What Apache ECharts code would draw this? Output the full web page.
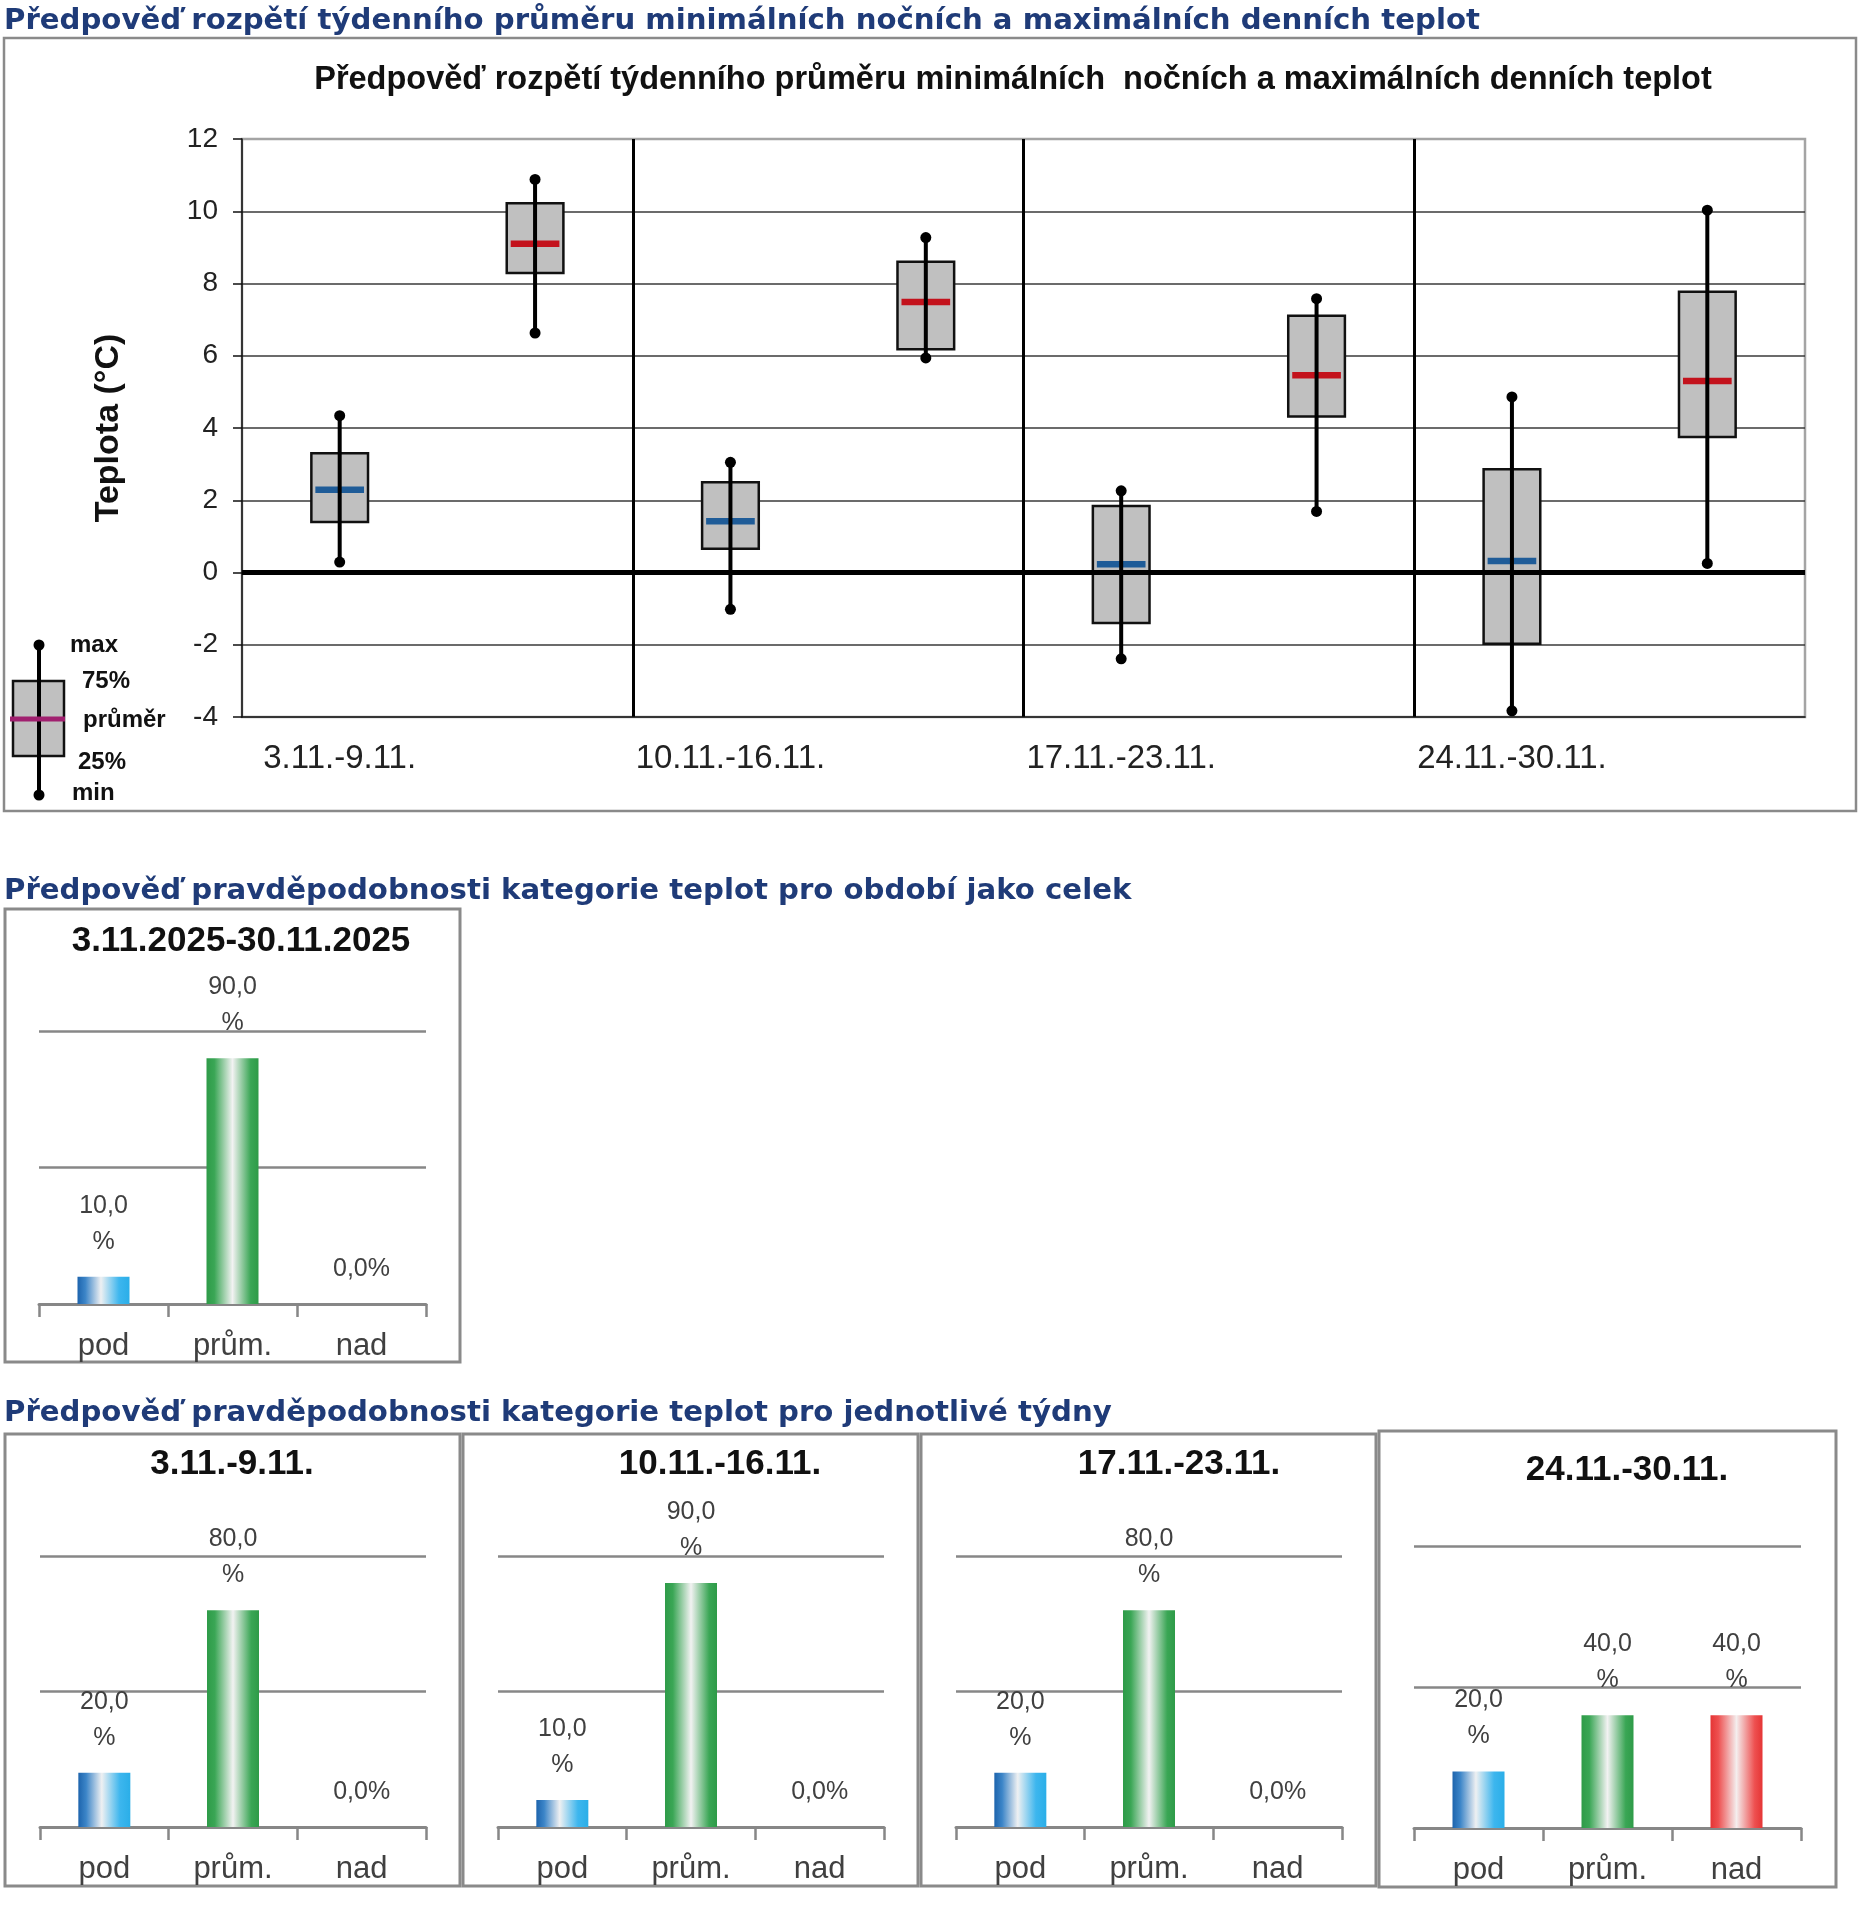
<!DOCTYPE html>
<html lang="cs">
<head>
<meta charset="utf-8">
<title>Předpověď teplot</title>
<script src="https://cdn.jsdelivr.net/npm/echarts@6/dist/echarts.min.js"></script>
<style>
  html, body { margin: 0; padding: 0; background: #fff; }
  #chart { width: 1866px; height: 1920px; }
</style>
</head>
<body>
<div id="chart"></div>
<script>
// --- data ---------------------------------------------------------------
const weeks = ['3.11.-9.11.', '10.11.-16.11.', '17.11.-23.11.', '24.11.-30.11.']

// weekly average of night minimum temperatures
const nightLow = [0.29, -1.02, -2.39, -3.83]
const night25 = [1.40, 0.66, -1.40, -1.97]
const nightMean = [2.29, 1.42, 0.23, 0.32]
const night75 = [3.30, 2.50, 1.84, 2.86]
const nightHigh = [4.34, 3.05, 2.26, 4.86]

// weekly average of day maximum temperatures
const dayLow = [6.63, 5.94, 1.69, 0.25]
const day25 = [8.29, 6.18, 4.32, 3.75]
const dayMean = [9.10, 7.49, 5.46, 5.30]
const day75 = [10.22, 8.60, 7.11, 7.77]
const dayHigh = [10.88, 9.27, 7.58, 10.03]

const tempMin = -4
const tempMax = 12
const tempStep = 2

const probCategories = ['pod', 'prům.', 'nad']
const periodTitle = '3.11.2025-30.11.2025'
const periodProb = [10, 90, 0]
const weekPod = [20, 10, 20, 20]
const weekPrum = [80, 90, 80, 40]
const weekNad = [0, 0, 0, 40]
const probMax = 100
const probStep = 50

// --- layout ---------------------------------------------------------------
const FONT = '"Liberation Sans", Arial, sans-serif'
const HEAD_FONT = 'bold 29.2px "DejaVu Sans", Verdana, sans-serif'
const HEAD_COLOR = '#1f3b78'
const FRAME_COLOR = '#8a8a8a'
const GRID_GRAY = '#878787'

const mainGrid = { left: 242, top: 139, width: 1563, height: 578 }
const barPanels = [
  { frame: [5, 909, 455, 453], grid: { left: 39, top: 1031, width: 387, height: 273 }, title: [241, 941] },
  { frame: [5, 1434, 455, 452], grid: { left: 40, top: 1556, width: 386, height: 271 }, title: [232, 1464] },
  { frame: [463, 1434, 455, 452], grid: { left: 498, top: 1556, width: 386, height: 271 }, title: [720, 1464] },
  { frame: [921, 1434, 455, 452], grid: { left: 956, top: 1556, width: 386, height: 271 }, title: [1179, 1464] },
  { frame: [1379, 1431, 457, 456], grid: { left: 1414, top: 1546, width: 387, height: 282 }, title: [1627, 1470] }
]

const barGradients = [
  [
    { offset: 0, color: '#1d64ad' },
    { offset: 0.15, color: '#3c85c8' },
    { offset: 0.45, color: '#eef0f2' },
    { offset: 0.8, color: '#3db6ee' },
    { offset: 1, color: '#2aaee8' }
  ],
  [
    { offset: 0, color: '#2e9b48' },
    { offset: 0.15, color: '#3aa655' },
    { offset: 0.5, color: '#f2f2f2' },
    { offset: 0.85, color: '#3aa655' },
    { offset: 1, color: '#2e9b48' }
  ],
  [
    { offset: 0, color: '#e53535' },
    { offset: 0.15, color: '#ee5050' },
    { offset: 0.5, color: '#f4eeee' },
    { offset: 0.85, color: '#ee5050' },
    { offset: 1, color: '#e53535' }
  ]
]

// two slots per week: night box on the left, day box on the right
const slots = []
weeks.forEach((w) => { slots.push(w); slots.push('') })

const nightRows = weeks.map((w, i) => [2 * i, nightLow[i], night25[i], nightMean[i], night75[i], nightHigh[i]])
const dayRows = weeks.map((w, i) => [2 * i + 1, dayLow[i], day25[i], dayMean[i], day75[i], dayHigh[i]])

function renderBox(params, api) {
  const x = api.value(0)
  const bottom = api.coord([x, api.value(2)])
  const top = api.coord([x, api.value(4)])
  const w = api.size([1, 0])[0] * 0.29
  return {
    type: 'rect',
    shape: { x: bottom[0] - w / 2, y: top[1], width: w, height: bottom[1] - top[1] },
    style: { fill: '#c0c0c0', stroke: '#111', lineWidth: 2.5 }
  }
}

function whiskerRenderer(meanColor) {
  return function (params, api) {
    const x = api.value(0)
    const low = api.coord([x, api.value(1)])
    const mean = api.coord([x, api.value(3)])
    const high = api.coord([x, api.value(5)])
    const w = api.size([1, 0])[0] * 0.29
    return {
      type: 'group',
      children: [
        {
          type: 'line',
          shape: { x1: mean[0] - w / 2 + 4, y1: mean[1], x2: mean[0] + w / 2 - 4, y2: mean[1] },
          style: { stroke: meanColor, lineWidth: 6.5 }
        },
        {
          type: 'line',
          shape: { x1: low[0], y1: low[1], x2: high[0], y2: high[1] },
          style: { stroke: '#000', lineWidth: 4 }
        },
        { type: 'circle', shape: { cx: high[0], cy: high[1], r: 5.5 }, style: { fill: '#000' } },
        { type: 'circle', shape: { cx: low[0], cy: low[1], r: 5.5 }, style: { fill: '#000' } }
      ]
    }
  }
}

function probLabel(params) {
  const v = params.value
  const s = v.toFixed(1).replace('.', ',')
  return v >= 10 ? s + '\n%' : s + '%'
}

function txt(text, x, y, font, fill, align) {
  return {
    type: 'text',
    x: x,
    y: y,
    style: {
      text: text, font: font, fill: fill,
      textAlign: align || 'left', align: align || 'left',
      textVerticalAlign: 'middle', verticalAlign: 'middle'
    }
  }
}

// --- chart ---------------------------------------------------------------
const chart = echarts.init(document.getElementById('chart'))

const grids = [Object.assign({ show: true, borderColor: '#a4a4a4', borderWidth: 2.5, backgroundColor: '#fff' }, mainGrid)]
const xAxes = [{
  type: 'category',
  gridIndex: 0,
  data: slots,
  boundaryGap: true,
  axisLine: { onZero: false, lineStyle: { color: '#111', width: 1.5 } },
  axisTick: { show: false },
  axisLabel: { interval: 0, margin: 25, fontSize: 33, color: '#222', fontFamily: FONT },
  // week separators; the right edge stays the gray plot frame
  splitLine: {
    show: true,
    showMaxLine: false,
    interval: (i) => i === 2 || i === 4 || i === 6,
    lineStyle: { color: '#000', width: 3 }
  }
}]
const yAxes = [{
  type: 'value',
  gridIndex: 0,
  min: tempMin,
  max: tempMax,
  interval: tempStep,
  name: 'Teplota (°C)',
  nameLocation: 'middle',
  nameRotate: 90,
  nameGap: 116,
  nameTextStyle: { fontSize: 34, fontWeight: 'bold', color: '#111', fontFamily: FONT },
  axisLine: { show: true, lineStyle: { color: '#111', width: 1.5 } },
  axisTick: { show: true, length: 9, lineStyle: { color: '#111', width: 1.5 } },
  axisLabel: { margin: 24, fontSize: 28, color: '#222', fontFamily: FONT },
  // the top line belongs to the gray plot frame
  splitLine: { show: true, showMinLine: false, showMaxLine: false, lineStyle: { color: '#3a3a3a', width: 1.5 } }
}]

const series = [
  { name: 'noc box', type: 'custom', xAxisIndex: 0, yAxisIndex: 0, data: nightRows, encode: { x: 0, y: [1, 2, 3, 4, 5] }, renderItem: renderBox, z: 2, silent: true },
  { name: 'den box', type: 'custom', xAxisIndex: 0, yAxisIndex: 0, data: dayRows, encode: { x: 0, y: [1, 2, 3, 4, 5] }, renderItem: renderBox, z: 2, silent: true },
  {
    name: 'nula', type: 'line', xAxisIndex: 0, yAxisIndex: 0, data: [], z: 3, silent: true,
    markLine: {
      silent: true, symbol: ['none', 'none'], animation: false,
      label: { show: false },
      lineStyle: { color: '#000', width: 5, type: 'solid' },
      data: [{ yAxis: 0 }]
    }
  },
  { name: 'noc', type: 'custom', xAxisIndex: 0, yAxisIndex: 0, data: nightRows, encode: { x: 0, y: [1, 2, 3, 4, 5] }, renderItem: whiskerRenderer('#1f5c98'), z: 4, silent: true },
  { name: 'den', type: 'custom', xAxisIndex: 0, yAxisIndex: 0, data: dayRows, encode: { x: 0, y: [1, 2, 3, 4, 5] }, renderItem: whiskerRenderer('#c3121c'), z: 4, silent: true }
]

const panelValues = [periodProb].concat(weeks.map((w, i) => [weekPod[i], weekPrum[i], weekNad[i]]))
const panelTitles = [periodTitle].concat(weeks)

barPanels.forEach((p, k) => {
  const gi = k + 1
  grids.push(Object.assign({}, p.grid))
  xAxes.push({
    type: 'category',
    gridIndex: gi,
    data: probCategories,
    axisLine: { lineStyle: { color: GRID_GRAY, width: 3 } },
    axisTick: { show: true, length: 13, lineStyle: { color: GRID_GRAY, width: 2.5 } },
    axisLabel: { margin: 27, fontSize: 31, color: '#404040', fontFamily: FONT }
  })
  yAxes.push({
    type: 'value',
    gridIndex: gi,
    min: 0,
    max: probMax,
    interval: probStep,
    axisLine: { show: false },
    axisTick: { show: false },
    axisLabel: { show: false },
    splitLine: { show: true, lineStyle: { color: GRID_GRAY, width: 2.5 } }
  })
  series.push({
    type: 'bar',
    xAxisIndex: gi,
    yAxisIndex: gi,
    barWidth: 52,
    silent: true,
    data: panelValues[k].map((v, j) => ({
      value: v,
      itemStyle: { color: new echarts.graphic.LinearGradient(0, 0, 1, 0, barGradients[j]) }
    })),
    label: {
      show: true,
      position: 'top',
      distance: 17,
      formatter: probLabel,
      fontSize: 25,
      lineHeight: 36,
      color: '#404040',
      fontFamily: FONT
    }
  })
})

// frames, headings, titles and the box legend
const graphics = []
const frames = [[4, 38, 1852, 773]].concat(barPanels.map((p) => p.frame))
frames.forEach((f, i) => {
  graphics.push({
    type: 'rect',
    z: 0,
    shape: { x: f[0], y: f[1], width: f[2], height: f[3] },
    style: { fill: 'none', stroke: FRAME_COLOR, lineWidth: i === 0 ? 2.5 : 3 }
  })
})

graphics.push(txt('Předpověď rozpětí týdenního průměru minimálních nočních a maximálních denních teplot', 4, 21, HEAD_FONT, HEAD_COLOR))
graphics.push(txt('Předpověď pravděpodobnosti kategorie teplot pro období jako celek', 4, 891, HEAD_FONT, HEAD_COLOR))
graphics.push(txt('Předpověď pravděpodobnosti kategorie teplot pro jednotlivé týdny', 4, 1413, HEAD_FONT, HEAD_COLOR))
graphics.push(txt('Předpověď rozpětí týdenního průměru minimálních  nočních a maximálních denních teplot', 1013, 80, 'bold 32.5px ' + FONT, '#111', 'center'))

barPanels.forEach((p, k) => {
  graphics.push(txt(panelTitles[k], p.title[0], p.title[1], 'bold 35px ' + FONT, '#111', 'center'))
})

// legend glyph: max / 75% / průměr / 25% / min
graphics.push({ type: 'rect', shape: { x: 13, y: 681, width: 51, height: 75 }, style: { fill: '#c0c0c0', stroke: '#111', lineWidth: 2.5 } })
graphics.push({ type: 'line', shape: { x1: 39, y1: 645, x2: 39, y2: 795 }, style: { stroke: '#000', lineWidth: 4 } })
graphics.push({ type: 'line', shape: { x1: 10, y1: 719, x2: 65, y2: 719 }, style: { stroke: '#a0206f', lineWidth: 5 } })
graphics.push({ type: 'circle', shape: { cx: 39, cy: 645, r: 5.5 }, style: { fill: '#000' } })
graphics.push({ type: 'circle', shape: { cx: 39, cy: 795, r: 5.5 }, style: { fill: '#000' } })
const legendFont = 'bold 24px ' + FONT
graphics.push(txt('max', 70, 645, legendFont, '#111'))
graphics.push(txt('75%', 82, 681, legendFont, '#111'))
graphics.push(txt('průměr', 83, 720, legendFont, '#111'))
graphics.push(txt('25%', 78, 762, legendFont, '#111'))
graphics.push(txt('min', 72, 793, legendFont, '#111'))

chart.setOption({
  animation: false,
  backgroundColor: '#fff',
  grid: grids,
  xAxis: xAxes,
  yAxis: yAxes,
  series: series,
  graphic: { elements: graphics }
})

window.addEventListener('resize', () => chart.resize())
</script>
</body>
</html>
